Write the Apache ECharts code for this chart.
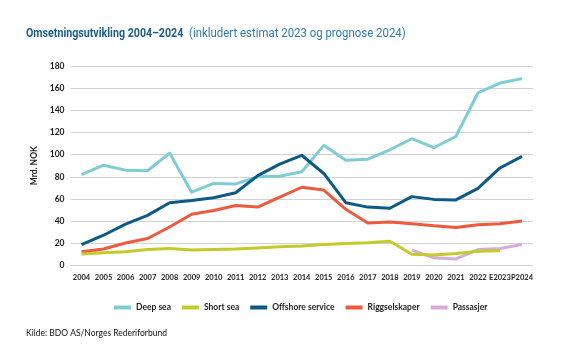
<!DOCTYPE html>
<html>
<head>
<meta charset="utf-8">
<script src="https://cdn.jsdelivr.net/npm/echarts@6/dist/echarts.min.js"></script>
<style>
  html, body { margin: 0; padding: 0; background: #fff; }
  #chart { width: 573px; height: 345px; }
</style>
</head>
<body>
<div id="chart"></div>
<script>
// Years on the category axis (E = estimate, P = forecast)
const years = ['2004', '2005', '2006', '2007', '2008', '2009', '2010', '2011', '2012', '2013',
  '2014', '2015', '2016', '2017', '2018', '2019', '2020', '2021', '2022', 'E2023', 'P2024'];

// Turnover in billions NOK per segment
const deepSea = [82, 90.5, 86, 85.5, 101.5, 66, 74, 73.5, 80, 80.5, 84.5, 108.5, 95, 96, 104.5, 114.5, 106.5, 116.5, 156, 165, 169];
const shortSea = [10, 11, 12, 14, 15, 13.5, 14, 14.5, 15.5, 16.5, 17.2, 18.5, 19.5, 20.2, 21.5, 9.7, 9, 10.5, 12.5, 13, null];
const offshore = [18.5, 27, 37, 45, 56.5, 58.5, 61, 65.5, 81, 91.5, 99.5, 83, 56.5, 52.5, 51.5, 62, 59.5, 59, 69.5, 88, 98.5];
const rigg = [12, 14.5, 20, 24, 34.5, 46, 49.5, 54, 52.5, 61.5, 70.5, 68, 50.5, 38, 39, 37.5, 35.5, 34, 36.5, 37.5, 40];
const passasjer = [null, null, null, null, null, null, null, null, null, null, null, null, null, null, null,
  13.5, 6.5, 5.5, 14, 15, 18.5];

const yTicks = { min: 0, max: 180, interval: 20 };

const seriesDefs = [
  { name: 'Deep sea', data: deepSea, color: '#7fcdd4' },
  { name: 'Short sea', data: shortSea, color: '#c3cb2a' },
  { name: 'Offshore service', data: offshore, color: '#0d5a86' },
  { name: 'Riggselskaper', data: rigg, color: '#ee5a3d' },
  { name: 'Passasjer', data: passasjer, color: '#d8abd9' }
];

const textFont = 'Lato, "Open Sans", sans-serif';
const titleFont = 'Roboto, "Noto Sans", sans-serif';

const chart = echarts.init(document.getElementById('chart'), null, { renderer: 'canvas' });

chart.setOption({
  animation: false,
  backgroundColor: '#ffffff',
  legend: {
    left: 109,
    top: 298,
    icon: 'rect',
    itemWidth: 17,
    itemHeight: 4,
    itemGap: 11,
    textStyle: { fontFamily: textFont, fontSize: 8.5, color: '#222', fontWeight: 'bold' },
    data: seriesDefs.map(s => s.name)
  },
  graphic: [
    {
      // Bold heading, horizontally condensed
      type: 'text',
      x: 26,
      y: 34,
      scaleX: 0.79,
      style: {
        text: 'Omsetningsutvikling 2004–2024',
        font: 'bold 13.5px ' + titleFont,
        fill: '#1b5d8c',
        verticalAlign: 'middle'
      }
    },
    {
      type: 'text',
      x: 189,
      y: 34,
      scaleX: 0.845,
      style: {
        text: '(inkludert estimat 2023 og prognose 2024)',
        font: 'normal 13.5px ' + titleFont,
        fill: '#2c7bb0',
        verticalAlign: 'middle'
      }
    },
    {
      type: 'text',
      x: 26,
      y: 333,
      style: {
        text: 'Kilde: BDO AS/Norges Rederiforbund',
        font: 'normal 8.5px Lato, "Open Sans", sans-serif',
        fill: '#111',
        verticalAlign: 'middle'
      }
    }
  ],
  grid: { left: 70.5, right: 40, top: 66.5, bottom: 80, containLabel: false },
  xAxis: {
    type: 'category',
    data: years,
    boundaryGap: true,
    axisLine: { show: false },
    axisTick: { show: false },
    axisLabel: { interval: 0, margin: 9, fontFamily: textFont, fontSize: 7.5, fontWeight: 'bold', color: '#222' },
    splitLine: { show: false }
  },
  yAxis: {
    type: 'value',
    min: yTicks.min,
    max: yTicks.max,
    interval: yTicks.interval,
    name: 'Mrd. NOK',
    nameLocation: 'middle',
    nameGap: 31,
    nameTextStyle: { fontFamily: textFont, fontSize: 8.5, fontWeight: 'bold', color: '#222' },
    axisLine: { show: false },
    axisTick: { show: false },
    axisLabel: { margin: 6, fontFamily: textFont, fontSize: 8.5, fontWeight: 'bold', color: '#222' },
    splitLine: { lineStyle: { color: '#d2d2d2', width: 1 } }
  },
  series: seriesDefs.map((s, i) => ({
    name: s.name,
    type: 'line',
    data: s.data,
    color: s.color,
    showSymbol: false,
    symbol: 'none',
    connectNulls: false,
    z: [2, 4, 3, 3, 2][i],
    lineStyle: { width: 3, color: s.color, join: 'round' },
    itemStyle: { color: s.color }
  }))
});
</script>
</body>
</html>
